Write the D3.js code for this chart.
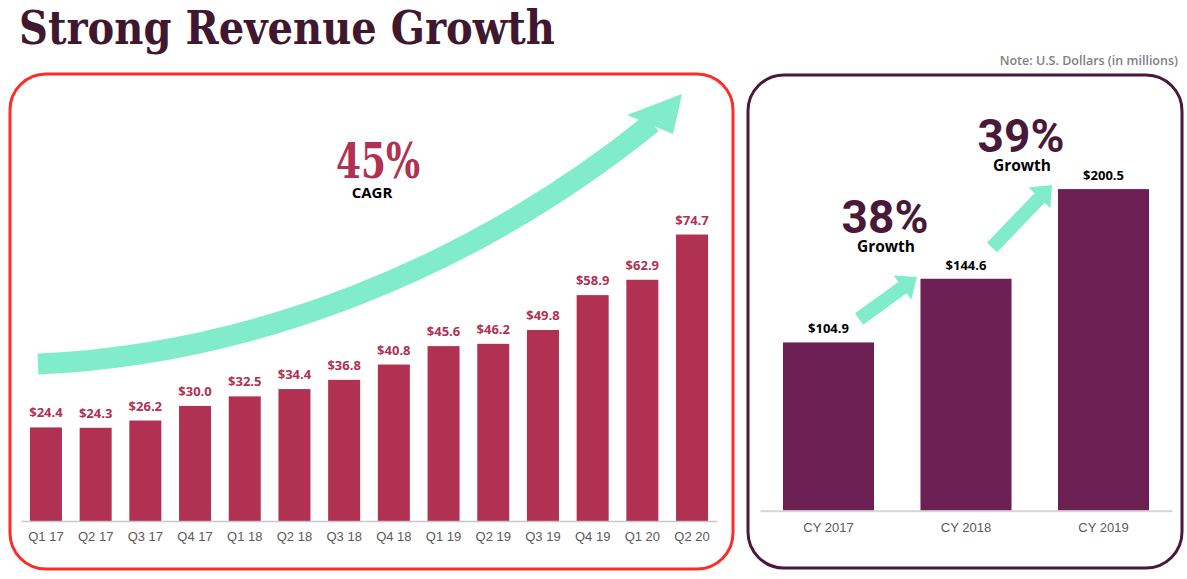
<!DOCTYPE html>
<html>
<head>
<meta charset="utf-8">
<script src="https://cdn.jsdelivr.net/npm/d3@7"></script>
<style>
  html, body { margin: 0; padding: 0; background: #fff; }
  svg { display: block; }
</style>
</head>
<body>
<svg id="chart" width="1187" height="579"></svg>
<script>
// quarterly revenue, USD millions
var quarters = ["Q1 17", "Q2 17", "Q3 17", "Q4 17", "Q1 18", "Q2 18", "Q3 18",
                "Q4 18", "Q1 19", "Q2 19", "Q3 19", "Q4 19", "Q1 20", "Q2 20"];
var quarterRevenue = [24.4, 24.3, 26.2, 30.0, 32.5, 34.4, 36.8,
                      40.8, 45.6, 46.2, 49.8, 58.9, 62.9, 74.7];

// calendar year revenue, USD millions
var years = ["CY 2017", "CY 2018", "CY 2019"];
var yearRevenue = [104.9, 144.6, 200.5];
var yearGrowth = ["38%", "39%"];

var cagr = "45%";

var teal = "#80ecca";
var svg = d3.select("#chart");

// title + note
svg.append("text")
    .attr("x", 19).attr("y", 44)
    .attr("textLength", 536).attr("lengthAdjust", "spacingAndGlyphs")
    .style("font-family", "DejaVu Serif").style("font-weight", 700)
    .style("font-size", "47px").style("fill", "#3f1830")
    .text("Strong Revenue Growth");

svg.append("text")
    .attr("x", 1178).attr("y", 65)
    .attr("text-anchor", "end")
    .style("font-family", "Open Sans").style("font-weight", 600)
    .style("font-size", "12.5px").style("fill", "#7f7f7f")
    .text("Note: U.S. Dollars (in millions)");

// panel frames
svg.append("rect")
    .attr("x", 10).attr("y", 74).attr("width", 723).attr("height", 495)
    .attr("rx", 36).attr("ry", 36)
    .style("fill", "none").style("stroke", "#ff2b2b").style("stroke-width", 3);

svg.append("rect")
    .attr("x", 748).attr("y", 75).attr("width", 434).attr("height", 493)
    .attr("rx", 36).attr("ry", 36)
    .style("fill", "none").style("stroke", "#4a1838").style("stroke-width", 3);

// ---------- left: quarterly ----------
var xq = d3.scaleBand()
    .domain(quarters)
    .range([21, 717])
    .paddingInner(0.356)
    .paddingOuter(0.18);

var yq = d3.scaleLinear()
    .domain([0, 80])
    .range([521, 521 - 80 * 3.835]);

// big curved arrow behind the bars
var curve = d3.path();
curve.moveTo(38, 364);
curve.bezierCurveTo(250, 355, 470, 270, 652, 123);
svg.append("path")
    .attr("d", curve.toString())
    .style("fill", "none").style("stroke", teal).style("stroke-width", 21);
svg.append("path")
    .attr("d", "M682,94 L627,115 L673,134 Z")
    .style("fill", teal);

svg.append("g").selectAll("rect")
    .data(quarterRevenue)
    .join("rect")
    .attr("x", function(d, i) { return xq(quarters[i]); })
    .attr("y", function(d) { return yq(d); })
    .attr("width", xq.bandwidth())
    .attr("height", function(d) { return yq(0) - yq(d); })
    .style("fill", "#b03152");

svg.append("g").selectAll("text")
    .data(quarterRevenue)
    .join("text")
    .attr("x", function(d, i) { return xq(quarters[i]) + xq.bandwidth() / 2; })
    .attr("y", function(d) { return yq(d) - 10; })
    .attr("text-anchor", "middle")
    .style("font-family", "Open Sans").style("font-weight", 700)
    .style("font-size", "13px").style("fill", "#b03152")
    .text(function(d) { return "$" + d.toFixed(1); });

var axq = svg.append("g")
    .attr("transform", "translate(0," + yq(0) + ")")
    .call(d3.axisBottom(xq).tickSize(0).tickPadding(11));
axq.select(".domain").style("stroke", "#c8c8c8").style("stroke-width", 1.5);
axq.selectAll("text")
    .style("font-family", "Liberation Sans").style("font-size", "13px")
    .style("fill", "#595959");

svg.append("text")
    .attr("x", 378).attr("y", 178)
    .attr("text-anchor", "middle")
    .attr("textLength", 84).attr("lengthAdjust", "spacingAndGlyphs")
    .style("font-family", "DejaVu Serif").style("font-weight", 700)
    .style("font-size", "49px").style("fill", "#b03152")
    .text(cagr);
svg.append("text")
    .attr("x", 372).attr("y", 198)
    .attr("text-anchor", "middle")
    .style("font-family", "Open Sans").style("font-weight", 700)
    .style("font-size", "15px").style("fill", "#000")
    .text("CAGR");

// ---------- right: yearly ----------
var xy = d3.scaleBand()
    .domain(years)
    .range([760, 1172])
    .paddingInner(0.338)
    .paddingOuter(0.167);

var yy = d3.scaleLinear()
    .domain([0, 200])
    .range([510.7, 510.7 - 200 * 1.604]);

// straight block arrow from p0 to p1
function blockArrow(p0, p1, w, hl, hw) {
  var dx = p1[0] - p0[0], dy = p1[1] - p0[1];
  var len = Math.sqrt(dx * dx + dy * dy);
  var ux = dx / len, uy = dy / len, nx = -uy, ny = ux;
  var bx = p1[0] - ux * hl, by = p1[1] - uy * hl;
  var pts = [
    [p0[0] + nx * w / 2, p0[1] + ny * w / 2],
    [bx + nx * w / 2, by + ny * w / 2],
    [bx + nx * hw / 2, by + ny * hw / 2],
    p1,
    [bx - nx * hw / 2, by - ny * hw / 2],
    [bx - nx * w / 2, by - ny * w / 2],
    [p0[0] - nx * w / 2, p0[1] - ny * w / 2]
  ];
  return "M" + pts.join("L") + "Z";
}

svg.append("path")
    .attr("d", blockArrow([859, 319], [917, 277], 14, 18, 30))
    .style("fill", teal);
svg.append("path")
    .attr("d", blockArrow([992, 247.5], [1052, 185], 14, 18, 30))
    .style("fill", teal);

svg.append("g").selectAll("rect")
    .data(yearRevenue)
    .join("rect")
    .attr("x", function(d, i) { return xy(years[i]); })
    .attr("y", function(d) { return yy(d); })
    .attr("width", xy.bandwidth())
    .attr("height", function(d) { return yy(0) - yy(d); })
    .style("fill", "#6b1f52");

svg.append("g").selectAll("text")
    .data(yearRevenue)
    .join("text")
    .attr("x", function(d, i) { return xy(years[i]) + xy.bandwidth() / 2; })
    .attr("y", function(d) { return yy(d) - 9; })
    .attr("text-anchor", "middle")
    .style("font-family", "Open Sans").style("font-weight", 700)
    .style("font-size", "13px").style("fill", "#000")
    .text(function(d) { return "$" + d.toFixed(1); });

var axy = svg.append("g")
    .attr("transform", "translate(0," + yy(0) + ")")
    .call(d3.axisBottom(xy).tickSize(0).tickPadding(12));
axy.select(".domain").style("stroke", "#d6d6d6").style("stroke-width", 2);
axy.selectAll("text")
    .style("font-family", "Liberation Sans").style("font-size", "13px")
    .style("fill", "#595959");

// growth callouts
var growthPos = [[885, 233], [1021, 152]];
growthPos.forEach(function(p, i) {
  svg.append("text")
      .attr("x", p[0]).attr("y", p[1])
      .attr("text-anchor", "middle")
      .style("font-family", "Roboto").style("font-weight", 700)
      .style("font-size", "46px").style("fill", "#4a1838")
      .text(yearGrowth[i]);
  svg.append("text")
      .attr("x", p[0] + 1).attr("y", p[1] + 19)
      .attr("text-anchor", "middle")
      .style("font-family", "Open Sans").style("font-weight", 700)
      .style("font-size", "15.5px").style("fill", "#000")
      .text("Growth");
});
</script>
</body>
</html>
